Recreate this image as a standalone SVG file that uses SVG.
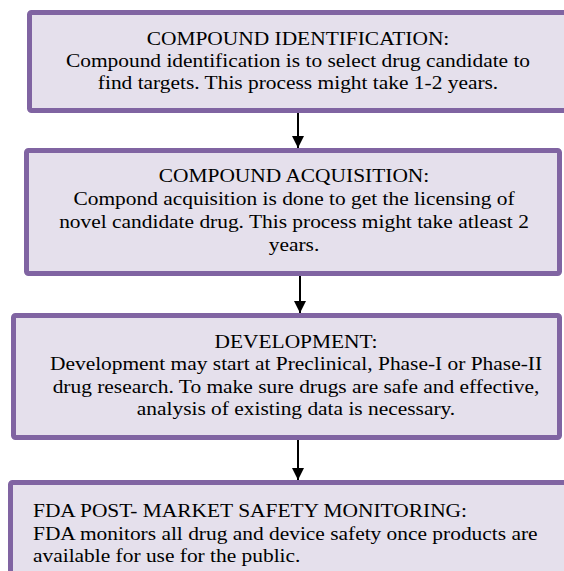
<svg xmlns="http://www.w3.org/2000/svg" width="564" height="571" viewBox="0 0 564 571">
  <defs>
    <style>
      .box { fill: #E5E0EC; stroke: #8064A2; stroke-width: 5; }
      .c { text-anchor: middle; }
      .link { stroke: #000; stroke-width: 2; fill: none; }
    </style>
    <marker id="arrow" viewBox="0 0 12 12" refX="12" refY="6" markerWidth="12" markerHeight="12" markerUnits="userSpaceOnUse" orient="auto">
      <path d="M0,0 L12,6 L0,12 Z" fill="#000"/>
    </marker>
  </defs>

  <rect width="564" height="571" fill="#fff"/>

  <g id="connectors">
    <line class="link" x1="298" y1="113" x2="298" y2="148" marker-end="url(#arrow)"/>
    <line class="link" x1="300" y1="276" x2="300" y2="313" marker-end="url(#arrow)"/>
    <line class="link" x1="298" y1="440" x2="298" y2="480" marker-end="url(#arrow)"/>
  </g>

  <!-- text is set in a serif face, widened horizontally -->
  <g font-family="'Liberation Serif', 'Times New Roman', Times, serif" font-size="18" fill="#000">
    <g id="compound-identification">
      <rect class="box" x="29.5" y="12.5" width="545" height="98" rx="2"/>
      <g transform="translate(298 0) scale(1.19 1)">
        <text class="c" x="0" y="45">COMPOUND IDENTIFICATION:</text>
        <text class="c" x="0" y="67">Compound identification is to select drug candidate to</text>
        <text class="c" x="0" y="89">find targets. This process might take 1-2 years.</text>
      </g>
    </g>

    <g id="compound-acquisition">
      <rect class="box" x="26.5" y="150.5" width="533" height="123" rx="2"/>
      <g transform="translate(294 0) scale(1.19 1)">
        <text class="c" x="0" y="182">COMPOUND ACQUISITION:</text>
        <text class="c" x="0" y="205">Compond acquisition is done to get the licensing of</text>
        <text class="c" x="0" y="228">novel candidate drug. This process might take atleast 2</text>
        <text class="c" x="0" y="251">years.</text>
      </g>
    </g>

    <g id="development">
      <rect class="box" x="13.5" y="315.5" width="546" height="122" rx="2"/>
      <g transform="translate(296 0) scale(1.19 1)">
        <text class="c" x="0" y="348">DEVELOPMENT:</text>
        <text class="c" x="0" y="370">Development may start at Preclinical, Phase-I or Phase-II</text>
        <text class="c" x="0" y="393">drug research. To make sure drugs are safe and effective,</text>
        <text class="c" x="0" y="415">analysis of existing data is necessary.</text>
      </g>
    </g>

    <g id="fda-monitoring">
      <rect class="box" x="10.5" y="482.5" width="560" height="100" rx="2"/>
      <g transform="translate(33 0) scale(1.19 1)">
        <text x="0" y="517">FDA POST- MARKET SAFETY MONITORING:</text>
        <text x="0" y="540">FDA monitors all drug and device safety once products are</text>
        <text x="0" y="562">available for use for the public.</text>
      </g>
    </g>
  </g>
</svg>
